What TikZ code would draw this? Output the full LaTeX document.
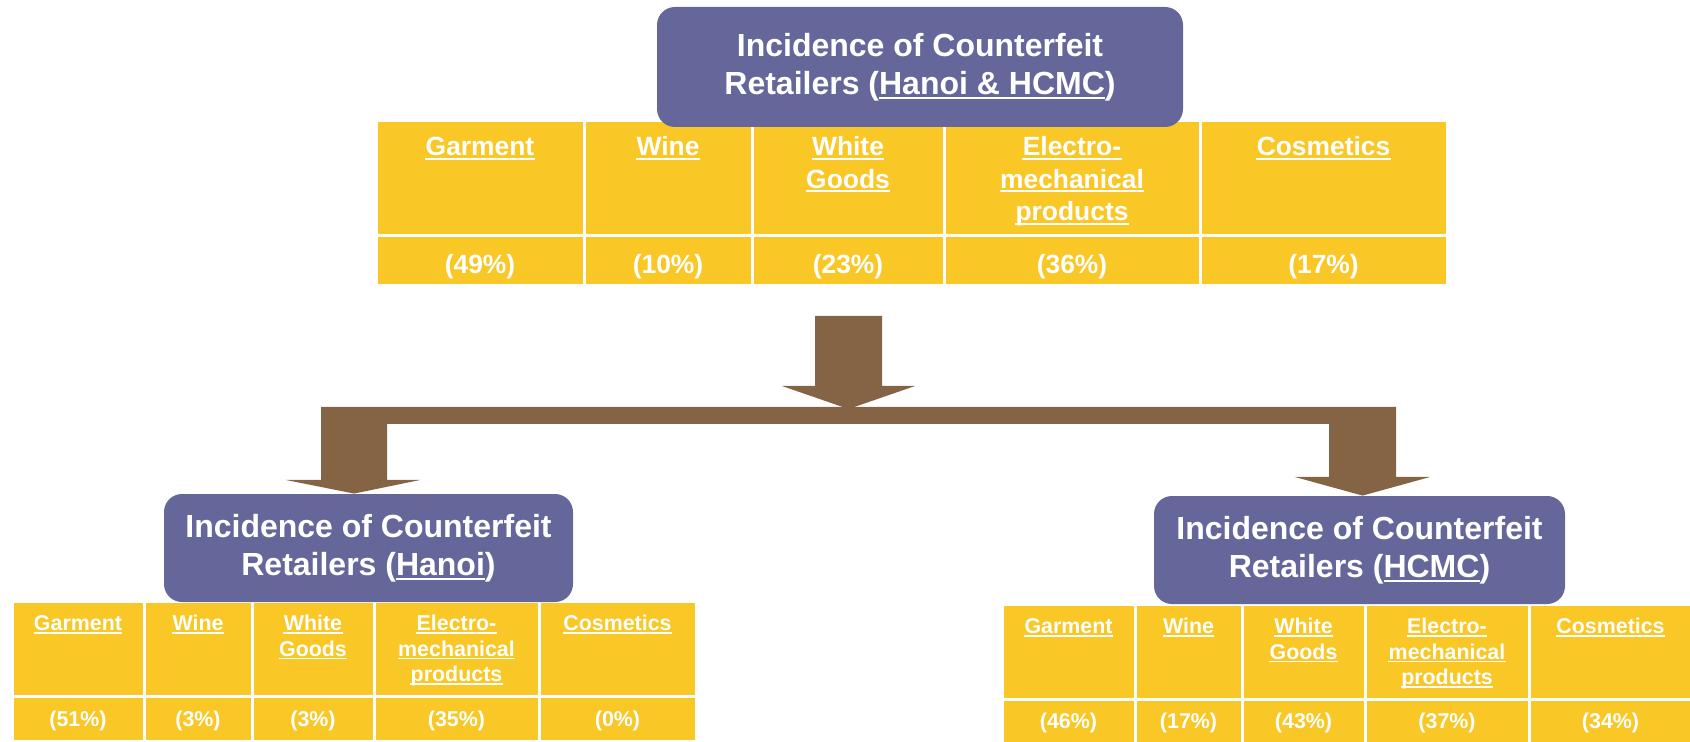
\documentclass[tikz,border=0pt]{standalone}
\usepackage{fontspec}
\setmainfont{Liberation Sans}
\usetikzlibrary{fit,calc}
\definecolor{boxpurple}{HTML}{656699}
\definecolor{celly}{HTML}{F9C726}
\definecolor{arrowbrown}{HTML}{856446}
\newcommand\uln[1]{\leavevmode\vtop{\hbox{\raisebox{0pt}[\height][0pt]{#1}}\kern0.09em\hrule height 0.07em}}
\begin{document}
\begin{tikzpicture}[x=0.5pt,y=-0.5pt,
 cell/.style={fill=celly, draw=white, line width=1.5pt, inner sep=0pt},
 titlebox/.style={fill=boxpurple, rounded corners=9pt, text=white, align=center, inner sep=0pt, font=\bfseries\fontsize{16}{19}\selectfont},
 bigtxt/.style={text=white, inner sep=0pt, font=\bfseries\fontsize{13.2}{16.3}\selectfont},
 smalltxt/.style={text=white, inner sep=0pt, font=\bfseries\fontsize{10.7}{12.75}\selectfont},
 ulbig/.style={draw=white, line width=0.92pt},
 ulsmall/.style={draw=white, line width=0.75pt},
 barrow/.style={fill=arrowbrown}]
\useasboundingbox (0,0) rectangle (1690,742);

% top table (Hanoi & HCMC)
\foreach \i/\l/\r/\v in {1/376/584/{(49\%)}, 2/584/752/{(10\%)}, 3/752/944/{(23\%)},
 4/944/1200/{(36\%)}, 5/1200/1447/{(17\%)}}{
 \node[cell, fit={(\l,121) (\r,236)}] (T-h\i) {};
 \node[cell, fit={(\l,236) (\r,286)}] (T-v\i) {};
 \node[bigtxt] (T-vt\i) at ($(T-v\i.north)+(0,32)$) {\v};
}
\foreach \c/\n/\t in {1/0/Garment, 2/0/Wine, 3/0/White, 3/1/Goods, 4/0/Electro-,
 4/1/mechanical, 4/2/products, 5/0/Cosmetics}{
 \node[bigtxt, anchor=base] (T-ht\c-\n) at ($(T-h\c.north)+(0,{36+32.6*\n})$) {\t};
 \draw[ulbig] ($(T-ht\c-\n.base west)+(0,3.3)$) -- ($(T-ht\c-\n.base east)+(0,3.3)$);
}

% left table (Hanoi)
\foreach \i/\l/\r/\v in {1/12/144/{(51\%)}, 2/144/252/{(3\%)}, 3/252/374/{(3\%)},
 4/374/539/{(35\%)}, 5/539/696/{(0\%)}}{
 \node[cell, fit={(\l,601) (\r,696)}] (L-h\i) {};
 \node[cell, fit={(\l,696) (\r,741)}] (L-v\i) {};
 \node[smalltxt] (L-vt\i) at ($(L-v\i.north)+(0,26)$) {\v};
}
\foreach \c/\n/\t in {1/0/Garment, 2/0/Wine, 3/0/White, 3/1/Goods, 4/0/Electro-,
 4/1/mechanical, 4/2/products, 5/0/Cosmetics}{
 \node[smalltxt, anchor=base] (L-ht\c-\n) at ($(L-h\c.north)+(0,{31+25.5*\n})$) {\t};
 \draw[ulsmall] ($(L-ht\c-\n.base west)+(0,2.7)$) -- ($(L-ht\c-\n.base east)+(0,2.7)$);
}

% right table (HCMC)
\foreach \i/\l/\r/\v in {1/1002/1135/{(46\%)}, 2/1135/1242/{(17\%)}, 3/1242/1365/{(43\%)},
 4/1365/1529/{(37\%)}, 5/1529/1692/{(34\%)}}{
 \node[cell, fit={(\l,604) (\r,699)}] (R-h\i) {};
 \node[cell, fit={(\l,699) (\r,746)}] (R-v\i) {};
 \node[smalltxt] (R-vt\i) at ($(R-v\i.north)+(0,25)$) {\v};
}
\foreach \c/\n/\t in {1/0/Garment, 2/0/Wine, 3/0/White, 3/1/Goods, 4/0/Electro-,
 4/1/mechanical, 4/2/products, 5/0/Cosmetics}{
 \node[smalltxt, anchor=base] (R-ht\c-\n) at ($(R-h\c.north)+(0,{31+25.5*\n})$) {\t};
 \draw[ulsmall] ($(R-ht\c-\n.base west)+(0,2.7)$) -- ($(R-ht\c-\n.base east)+(0,2.7)$);
}

% title boxes
\node[titlebox, minimum width=263pt, minimum height=60pt] (all) at (920,67)
 {Incidence of Counterfeit\\Retailers (\uln{Hanoi \& HCMC})};
\node[titlebox, minimum width=204.5pt, minimum height=54pt] (hanoi) at (368.5,548)
 {Incidence of Counterfeit\\Retailers (\uln{Hanoi})};
\node[titlebox, minimum width=205.5pt, minimum height=54pt] (hcmc) at (1359.5,550)
 {Incidence of Counterfeit\\Retailers (\uln{HCMC})};

% block arrows
\coordinate (lx) at (354,0);
\coordinate (rx) at (1362.5,0);
\coordinate (ttip) at (848.5,409);
\fill[barrow] (815,316) -- (882,316) -- (882,386) -- (915,386) -- (ttip)
  -- (782,386) -- (815,386) -- cycle;
\fill[barrow] (321,407) -- (1396,407) -- (1396,477) -- (1430,477) -- (rx |- hcmc.north)
  -- (1295,477) -- (1329,477) -- (1329,424) -- (387,424) -- (387,480) -- (420,480)
  -- (lx |- hanoi.north) -- (286,480) -- (321,480) -- cycle;
\end{tikzpicture}
\end{document}
